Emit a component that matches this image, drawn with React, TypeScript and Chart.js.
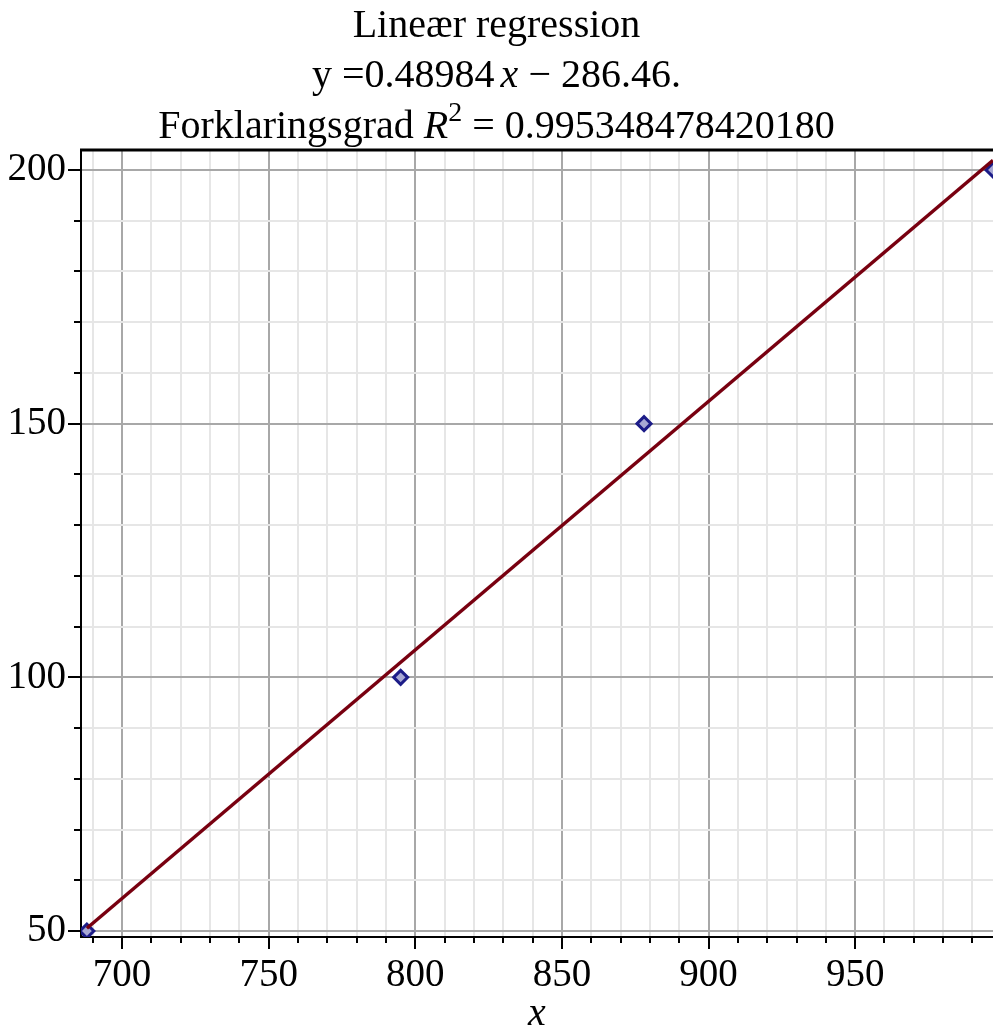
import React, { useEffect, useRef } from "react";
import { Chart, registerables } from "chart.js";

Chart.register(...registerables);

const pointX = [688, 795, 878, 997];
const pointY = [50, 100, 150, 200];
const lineX = [688, 997];
const lineY = [50.54, 201.91];
const xTicks = [690, 700, 710, 720, 730, 740, 750, 760, 770, 780, 790, 800, 810, 820, 830, 840, 850, 860, 870, 880, 890, 900, 910, 920, 930, 940, 950, 960, 970, 980, 990];
const yTicks = [50, 60, 70, 80, 90, 100, 110, 120, 130, 140, 150, 160, 170, 180, 190, 200];
const xLabels = [700, 750, 800, 850, 900, 950];
const yLabels = [50, 100, 150, 200];
const titleLine1 = "Lineær regression";
const slopeText = "0.48984";
const interceptText = "286.46.";
const r2Text = "0.995348478420180";

const SERIF = '"Liberation Serif", "Times New Roman", serif';
const TITLE_SIZE = 40;
const TICK_SIZE = 39;

type Seg = { t: string; italic?: boolean; sup?: boolean; gap?: number };

function drawSegs(ctx: CanvasRenderingContext2D, segs: Seg[], cx: number, baseline: number, size: number) {
  const fontFor = (s: Seg) => `${s.italic ? "italic " : ""}${s.sup ? Math.round(size * 0.7) : size}px ${SERIF}`;
  let total = 0;
  const widths = segs.map((s) => {
    if (s.gap) return s.gap;
    ctx.font = fontFor(s);
    return ctx.measureText(s.t).width;
  });
  widths.forEach((w) => (total += w));
  let x = cx - total / 2;
  ctx.textAlign = "left";
  ctx.textBaseline = "alphabetic";
  ctx.fillStyle = "#000";
  segs.forEach((s, i) => {
    if (!s.gap) {
      ctx.font = fontFor(s);
      ctx.fillText(s.t, x, s.sup ? baseline - size * 0.42 : baseline);
    }
    x += widths[i];
  });
}

const decorPlugin = {
  id: "decor",
  afterDraw(chart: any) {
    const ctx: CanvasRenderingContext2D = chart.ctx;
    const area = chart.chartArea;
    const xs = chart.scales.x;
    const ys = chart.scales.y;
    ctx.save();
    // top border
    ctx.strokeStyle = "#000";
    ctx.lineWidth = 3;
    ctx.beginPath();
    ctx.moveTo(area.left - 1, area.top);
    ctx.lineTo(area.right, area.top);
    ctx.stroke();
    // ticks
    ctx.lineWidth = 2;
    xs.ticks.forEach((t: any) => {
      const px = Math.round(xs.getPixelForValue(t.value));
      const major = xLabels.includes(t.value);
      ctx.beginPath();
      ctx.moveTo(px, area.bottom);
      ctx.lineTo(px, area.bottom + (major ? 12 : 6));
      ctx.stroke();
    });
    ys.ticks.forEach((t: any) => {
      const py = Math.round(ys.getPixelForValue(t.value));
      const major = yLabels.includes(t.value);
      ctx.beginPath();
      ctx.moveTo(area.left, py);
      ctx.lineTo(area.left - (major ? 13 : 7), py);
      ctx.stroke();
    });
    // titles
    const cx = chart.width / 2;
    drawSegs(ctx, [{ t: titleLine1 }], cx, 37, TITLE_SIZE);
    drawSegs(
      ctx,
      [{ t: "y =" + slopeText }, { t: "", gap: 6 }, { t: "x", italic: true }, { t: " \u2212 " + interceptText }],
      cx,
      87,
      TITLE_SIZE
    );
    drawSegs(
      ctx,
      [{ t: "Forklaringsgrad " }, { t: "R", italic: true }, { t: "2", sup: true }, { t: " = " + r2Text }],
      cx,
      138,
      TITLE_SIZE
    );
    // x axis title
    drawSegs(ctx, [{ t: "x", italic: true }], (area.left + area.right) / 2, 1025, TITLE_SIZE);
    ctx.restore();
  },
};

export default function App() {
  const ref = useRef<HTMLCanvasElement | null>(null);
  useEffect(() => {
    document.body.style.margin = "0";
    if (!ref.current) return;
    const gridColor = (c: any) => (c.tick && c.tick.value % 50 === 0 ? "#a8a8a8" : "#e6e6e6");
    const chart = new Chart(ref.current, {
      type: "scatter",
      data: {
        datasets: [
          {
            type: "line",
            label: "regression",
            data: lineX.map((x, i) => ({ x, y: lineY[i] })),
            borderColor: "#780010",
            borderWidth: 3.5,
            pointRadius: 0,
            fill: false,
          } as any,
          {
            label: "data",
            data: pointX.map((x, i) => ({ x, y: pointY[i] })),
            pointStyle: "rectRot",
            pointRadius: 7,
            borderColor: "#1c1c88",
            backgroundColor: "#a8a8d4",
            borderWidth: 3,
          },
        ],
      },
      options: {
        animation: false,
        responsive: false,
        devicePixelRatio: 1,
        font: { family: SERIF },
        layout: { autoPadding: false, padding: { top: 150, left: 0, right: 0, bottom: 0 } },
        plugins: { legend: { display: false }, tooltip: { enabled: false }, title: { display: false } },
        scales: {
          x: {
            type: "linear",
            min: 686,
            max: 997,
            afterBuildTicks: (s: any) => {
              s.ticks = xTicks.map((v) => ({ value: v }));
            },
            afterFit: (s: any) => {
              s.height = 94;
              s.paddingRight = 0;
              s.paddingLeft = 0;
            },
            ticks: {
              autoSkip: false,
              maxRotation: 0,
              padding: 15,
              color: "#000",
              font: { family: SERIF, size: TICK_SIZE },
              callback: (v: any) => (xLabels.includes(Number(v)) ? String(v) : ""),
            },
            grid: { color: gridColor, lineWidth: 2, drawTicks: false },
            border: { display: true, color: "#000", width: 2 },
          },
          y: {
            type: "linear",
            min: 48.82,
            max: 203.94,
            afterBuildTicks: (s: any) => {
              s.ticks = yTicks.map((v) => ({ value: v }));
            },
            afterFit: (s: any) => {
              s.width = 81;
              s.paddingTop = 0;
              s.paddingBottom = 0;
            },
            ticks: {
              autoSkip: false,
              padding: 15,
              color: "#000",
              font: { family: SERIF, size: TICK_SIZE },
              callback: (v: any) => (yLabels.includes(Number(v)) ? String(v) : ""),
            },
            grid: { color: gridColor, lineWidth: 2, drawTicks: false },
            border: { display: true, color: "#000", width: 2 },
          },
        },
      } as any,
      plugins: [decorPlugin],
    });
    return () => chart.destroy();
  }, []);
  return (
    <div style={{ width: 993, height: 1031, background: "#fff" }}>
      <canvas ref={ref} width={993} height={1031} style={{ display: "block" }} />
    </div>
  );
}
